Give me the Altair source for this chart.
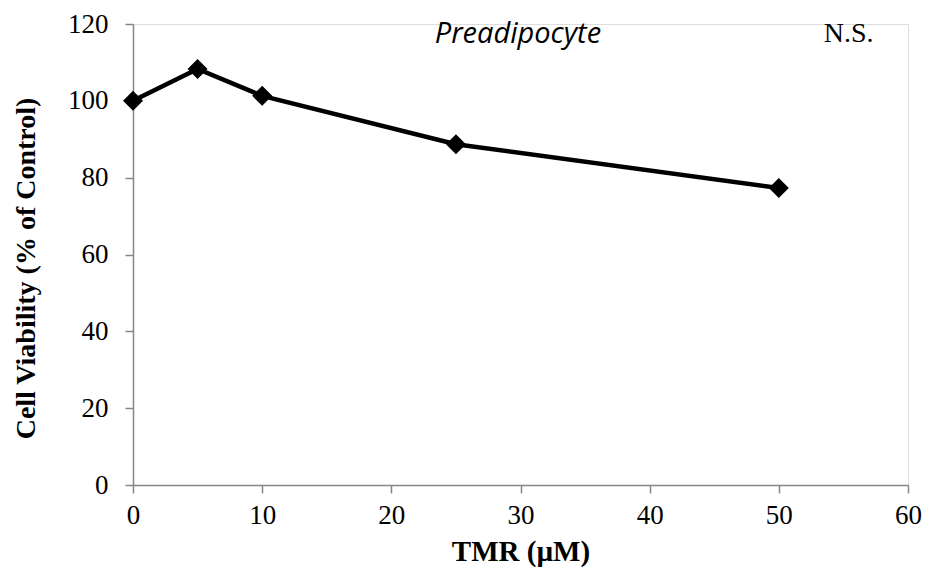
import altair as alt
import pandas as pd

# TMR concentration (µM) and cell viability (% of control)
dose = [0, 5, 10, 25, 50]
viability = [100.0, 108.3, 101.3, 88.7, 77.3]

# Annotation labels with their positions in data units
note_text = ["Preadipocyte", "N.S."]
note_x = [29.8, 55.4]
note_y = [117.4, 117.4]

df = pd.DataFrame({"dose": dose, "viability": viability})
notes = pd.DataFrame({"label": note_text, "x": note_x, "y": note_y})

axis_color = "#868686"
serif = "Liberation Serif"

x_scale = alt.Scale(domain=[0, 60], nice=False, zero=False)
y_scale = alt.Scale(domain=[0, 120], nice=False)

x_axis = alt.Axis(
    title="TMR (µM)", values=list(range(0, 61, 10)), grid=False, labelFlush=False,
    domainColor=axis_color, tickColor=axis_color, tickSize=8, domainWidth=1.5, tickWidth=1.5,
    labelFont=serif, labelFontSize=27, labelColor="black", labelPadding=9,
    titleFont=serif, titleFontSize=29, titleFontWeight="bold", titleColor="black", titlePadding=9,
)
y_axis = alt.Axis(
    title="Cell Viability (% of Control)", values=list(range(0, 121, 20)), grid=False,
    labelFlush=False,
    domainColor=axis_color, tickColor=axis_color, tickSize=8, domainWidth=1.5, tickWidth=1.5,
    labelFont=serif, labelFontSize=27, labelColor="black", labelPadding=17,
    titleFont=serif, titleFontSize=28, titleFontWeight="bold", titleColor="black", titlePadding=27,
    titleY=244,
)

line = alt.Chart(df).mark_line(color="black", strokeWidth=4.5).encode(
    x=alt.X("dose:Q", scale=x_scale, axis=x_axis),
    y=alt.Y("viability:Q", scale=y_scale, axis=y_axis),
)

points = alt.Chart(df).mark_point(
    shape="diamond", filled=True, color="black", size=400, opacity=1
).encode(
    x=alt.X("dose:Q", scale=x_scale),
    y=alt.Y("viability:Q", scale=y_scale),
)

label_pre = alt.Chart(notes.iloc[[0]]).mark_text(
    font="Open Sans", fontStyle="italic", fontSize=29, color="black", align="center", baseline="middle"
).encode(
    x=alt.X("x:Q", scale=x_scale), y=alt.Y("y:Q", scale=y_scale), text="label:N"
)

label_ns = alt.Chart(notes.iloc[[1]]).mark_text(
    font=serif, fontSize=28, color="black", align="center", baseline="middle"
).encode(
    x=alt.X("x:Q", scale=x_scale), y=alt.Y("y:Q", scale=y_scale), text="label:N"
)

chart = (
    alt.layer(line, points, label_pre, label_ns)
    .properties(
        width=775, height=461,
        autosize=alt.AutoSizeParams(type="none"),
        padding={"left": 133, "top": 24, "right": 19, "bottom": 88},
    )
    .configure_view(stroke=None)
    .configure(background="white")
)

chart.save("out.html", embed_options={"renderer": "svg", "actions": False})
